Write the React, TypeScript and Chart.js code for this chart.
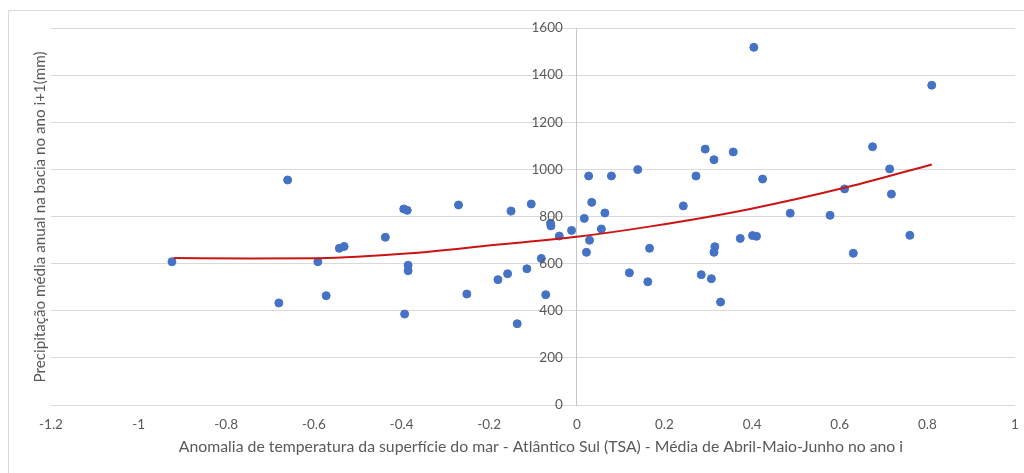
import React, { useEffect, useRef } from "react";
import { Chart, registerables } from "chart.js";

Chart.register(...registerables);

const xValues = [
  -0.924, -0.66, -0.68, -0.591, -0.572, -0.542, -0.531, -0.437, -0.395, -0.387,
  -0.385, -0.385, -0.393, -0.27, -0.251, -0.18, -0.158, -0.15, -0.136, -0.114,
  -0.104, -0.081, -0.071, -0.06, -0.059, -0.04, -0.012, 0.017, 0.022, 0.027,
  0.029, 0.034, 0.056, 0.064, 0.079, 0.12, 0.139, 0.162, 0.166, 0.243,
  0.272, 0.284, 0.293, 0.307, 0.313, 0.315, 0.313, 0.328, 0.404, 0.81,
  0.357, 0.424, 0.487, 0.578, 0.611, 0.675, 0.714, 0.718, 0.631, 0.76,
  0.373, 0.401, 0.41,
];
const yValues = [
  608, 955, 433, 608, 464, 665, 673, 712, 832, 826,
  593, 570, 386, 849, 471, 532, 557, 823, 345, 578,
  853, 622, 468, 771, 760, 717, 741, 792, 648, 972,
  699, 860, 747, 815, 972, 561, 999, 523, 665, 845,
  972, 553, 1086, 536, 1041, 672, 648, 437, 1518, 1357,
  1074, 959, 814, 805, 917, 1096, 1002, 895, 644, 720,
  707, 719, 716,
];

const trendX = [-0.92, -0.75, -0.59, -0.38, -0.19, 0, 0.165, 0.39, 0.62, 0.81];
const trendY = [624, 622, 623, 644, 679, 714, 757, 830, 926, 1021];

const xTitle =
  "Anomalia de temperatura da superfície do mar - Atlântico Sul (TSA) - Média de Abril-Maio-Junho no ano i";
const yTitle = "Precipitação média anual na bacia no ano i+1(mm)";

const FONT = "Lato";
const TEXT_COLOR = "#595959";

export default function App() {
  const ref = useRef<HTMLCanvasElement | null>(null);

  useEffect(() => {
    document.body.style.margin = "0";
    const canvas = ref.current;
    if (!canvas) return;

    const framePlugin = {
      id: "frame",
      beforeDraw(chart: any) {
        const ctx = chart.ctx;
        ctx.save();
        ctx.fillStyle = "#ffffff";
        ctx.fillRect(0, 0, chart.width, chart.height);
        ctx.strokeStyle = "#d9d9d9";
        ctx.lineWidth = 1;
        ctx.beginPath();
        ctx.moveTo(8.5, chart.height + 5);
        ctx.lineTo(8.5, 10.5);
        ctx.lineTo(chart.width + 5, 10.5);
        ctx.stroke();
        ctx.restore();
      },
      afterDraw(chart: any) {
        const ctx = chart.ctx;
        const xs = chart.scales.x;
        const ys = chart.scales.y;
        ctx.save();
        ctx.fillStyle = TEXT_COLOR;
        // y tick labels, left of the vertical axis at x = 0
        ctx.font = `13.5px ${FONT}`;
        ctx.textAlign = "right";
        ctx.textBaseline = "middle";
        const axisX = xs.getPixelForValue(0);
        ys.ticks.forEach((t: any) => {
          ctx.fillText(String(t.value), axisX - 14, ys.getPixelForValue(t.value));
        });
        // axis titles
        ctx.textAlign = "center";
        ctx.font = `15.8px ${FONT}`;
        ctx.fillText(xTitle, 541, 447);
        ctx.translate(40, 217);
        ctx.rotate(-Math.PI / 2);
        ctx.font = `15.2px ${FONT}`;
        ctx.fillText(yTitle, 0, 0);
        ctx.restore();
      },
    };

    const chart = new Chart(canvas, {
      type: "scatter",
      data: {
        datasets: [
          {
            label: "Precipitação",
            data: xValues.map((x, i) => ({ x, y: yValues[i] })),
            backgroundColor: "#4472C4",
            borderColor: "#4472C4",
            pointRadius: 4,
            pointHoverRadius: 4,
            order: 2,
          },
          {
            label: "Tendência",
            type: "line",
            data: trendX.map((x, i) => ({ x, y: trendY[i] })),
            borderColor: "#cc1414",
            borderWidth: 2,
            pointRadius: 0,
            showLine: true,
            fill: false,
            cubicInterpolationMode: "monotone",
            order: 1,
          } as any,
        ],
      },
      options: {
        animation: false,
        responsive: false,
        layout: { padding: { left: 51, right: 9, top: 28, bottom: 0 } },
        plugins: {
          legend: { display: false },
          tooltip: { enabled: false },
        },
        scales: {
          x: {
            type: "linear",
            position: "bottom",
            min: -1.2,
            max: 1,
            ticks: {
              stepSize: 0.2,
              color: TEXT_COLOR,
              font: { family: FONT, size: 13.5 },
              padding: 0,
              maxRotation: 0,
              callback: (v: any) => String(Math.round(Number(v) * 10) / 10),
            },
            grid: { display: false, drawTicks: true, tickLength: 12 },
            border: { display: false },
            afterFit: (scale: any) => {
              scale.height = 68;
            },
          },
          y: {
            type: "linear",
            position: { x: 0 } as any,
            min: 0,
            max: 1600,
            ticks: {
              stepSize: 200,
              display: false,
            },
            grid: { color: "#d9d9d9", drawTicks: false },
            border: { display: true, color: "#c6c6c6" },
            afterFit: (scale: any) => {
              scale.width = 0;
              scale.paddingTop = 0;
              scale.paddingBottom = 0;
            },
          },
        },
      },
      plugins: [framePlugin],
    });

    return () => chart.destroy();
  }, []);

  return (
    <div style={{ position: "relative", width: 1024, height: 473, overflow: "hidden" }}>
      <canvas ref={ref} width={1024} height={473} style={{ display: "block" }} />
    </div>
  );
}
